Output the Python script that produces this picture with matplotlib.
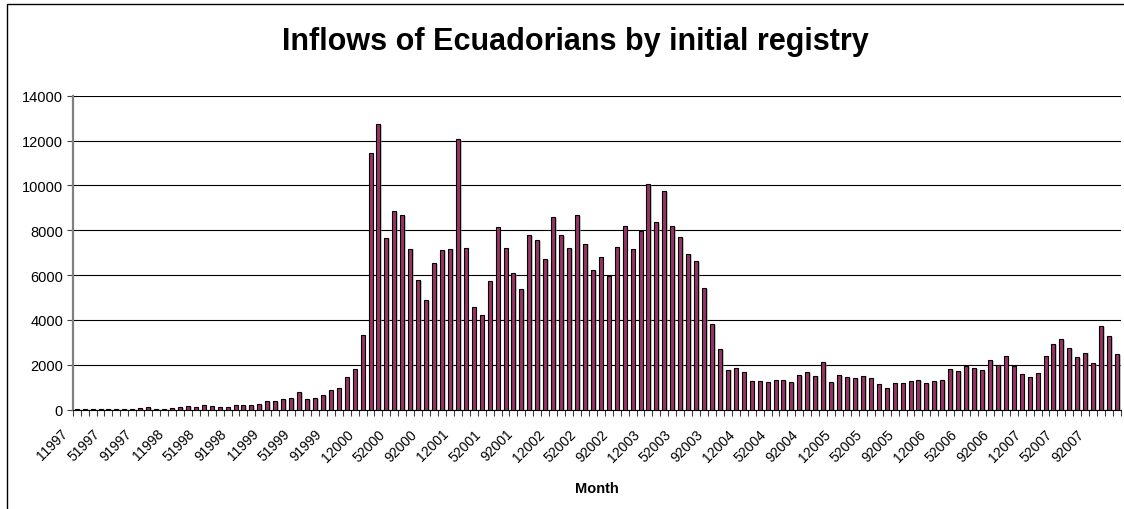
import matplotlib
matplotlib.use("Agg")
import matplotlib.pyplot as plt
import matplotlib.patheffects as pe
import matplotlib.transforms as mtransforms
from matplotlib.patches import Rectangle
import numpy as np

plt.rcParams['font.family'] = ['Liberation Sans', 'DejaVu Sans']

# monthly inflows, one list per year
years = list(range(1997, 2008))
inflows_1997 = [10, 40, 50, 50, 50, 50, 50, 50, 90, 130, 50, 50]
inflows_1998 = [90, 130, 160, 130, 200, 150, 120, 120, 200, 200, 200, 250]
inflows_1999 = [385, 385, 460, 530, 785, 460, 500, 650, 870, 950, 1450, 1800]
inflows_2000 = [3320, 11450, 12750, 7670, 8850, 8690, 7180, 5780, 4890, 6525, 7130, 7180]
inflows_2001 = [12070, 7220, 4600, 4230, 5750, 8130, 7220, 6080, 5370, 7800, 7580, 6730]
inflows_2002 = [8570, 7800, 7220, 8690, 7410, 6240, 6810, 5980, 7270, 8200, 7180, 7960]
inflows_2003 = [10070, 8370, 9760, 8200, 7710, 6940, 6640, 5410, 3810, 2700, 1790, 1840]
inflows_2004 = [1680, 1280, 1280, 1230, 1320, 1320, 1230, 1560, 1680, 1520, 2130, 1230]
inflows_2005 = [1560, 1440, 1400, 1520, 1415, 1160, 955, 1190, 1190, 1280, 1325, 1190]
inflows_2006 = [1280, 1310, 1820, 1730, 1940, 1860, 1775, 2220, 1980, 2385, 1940, 1580]
inflows_2007 = [1445, 1655, 2385, 2920, 3145, 2755, 2355, 2550, 2070, 3740, 3290, 2475]

values = (inflows_1997 + inflows_1998 + inflows_1999 + inflows_2000 + inflows_2001
          + inflows_2002 + inflows_2003 + inflows_2004 + inflows_2005 + inflows_2006
          + inflows_2007)
months = [f"{m}{y}" for y in years for m in range(1, 13)]

fig = plt.figure(figsize=(11.24, 5.10), dpi=100)
ax = fig.add_axes([0.0647, 0.1947, 0.9326, 0.6157])

x = np.arange(len(values))
bars = ax.bar(x, values, width=0.5, color='#993366', edgecolor='black',
              linewidth=0.8, zorder=3)
for b in bars:
    b.set_path_effects([pe.SimplePatchShadow(offset=(1.2, -0.6),
                                             shadow_rgbFace='#999999', alpha=0.5),
                        pe.Normal()])

ax.set_xlim(-0.5, len(values) - 0.5)
ax.set_ylim(0, 14000)
ax.set_yticks(np.arange(0, 14001, 2000))
ax.yaxis.grid(True, color='black', linewidth=0.8, zorder=0)
ax.set_axisbelow(True)

# tick marks on category boundaries, labels every fourth month
ax.set_xticks(np.arange(-0.5, len(values), 1.0))
ax.set_xticklabels([])
ax.tick_params(axis='x', which='major', direction='out', length=4,
               width=0.8, color='#404040')
ax.set_xticks(x[::4], minor=True)
ax.set_xticklabels(months[::4], minor=True, rotation=45, ha='right',
                   va='top', fontsize=10)
ax.tick_params(axis='x', which='minor', length=0, pad=12)
shift = mtransforms.ScaledTranslation(-6 / 100, 0, fig.dpi_scale_trans)
for lbl in ax.get_xticklabels(minor=True):
    lbl.set_transform(lbl.get_transform() + shift)
ax.tick_params(axis='y', direction='out', length=4, width=0.8,
               color='#404040', labelsize=10.5, pad=3)

for side in ['top', 'right']:
    ax.spines[side].set_visible(False)
ax.spines['left'].set_color('#808080')
ax.spines['left'].set_linewidth(1.6)
ax.spines['bottom'].set_color('black')
ax.spines['bottom'].set_linewidth(0.8)

ax.set_xlabel('Month', fontsize=10.5, fontweight='bold', labelpad=12)
fig.text(0.5115, 0.918, 'Inflows of Ecuadorians by initial registry',
         ha='center', va='center', fontsize=22, fontweight='bold')

# chart area frame
fig.patches.append(Rectangle((7 / 1124, -0.1), 1.2, 1 - 5 / 510 + 0.1,
                             transform=fig.transFigure, fill=False,
                             edgecolor='black', linewidth=1.0))

fig.savefig('out.png', dpi=100)
